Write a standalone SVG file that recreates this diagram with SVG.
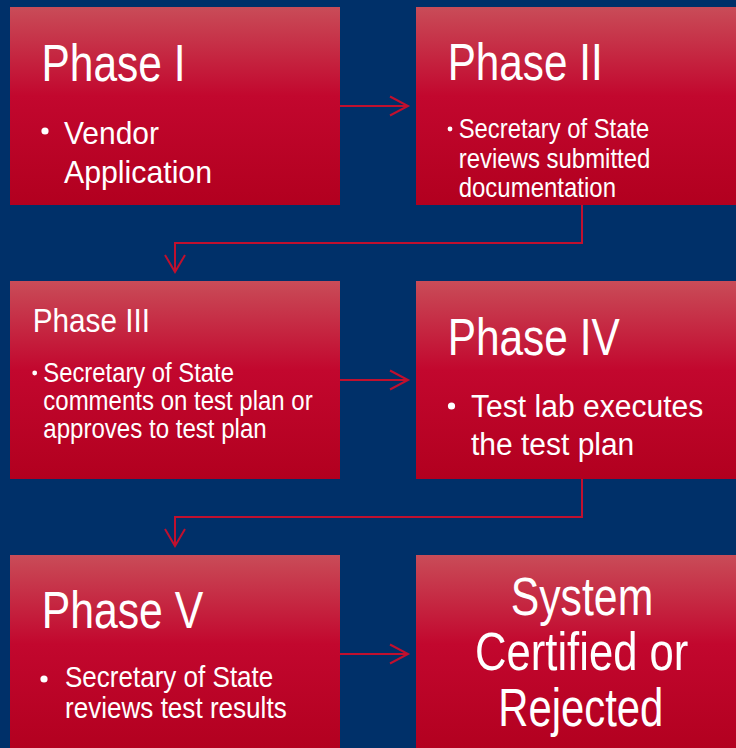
<svg xmlns="http://www.w3.org/2000/svg" width="736" height="748" viewBox="0 0 736 748">
<defs>
<linearGradient id="g" x1="0" y1="0" x2="0" y2="1">
<stop offset="0" stop-color="#c94c58"/>
<stop offset="0.45" stop-color="#c2072e"/>
<stop offset="1" stop-color="#b2001f"/>
</linearGradient>
<style>
.box{fill:url(#g)}
text{font-family:"Liberation Sans","Arial",sans-serif;fill:#ffffff}
.c{fill:none;stroke:#c0102e;stroke-width:2;stroke-linejoin:miter}
.b{fill:#ffffff}
</style>
</defs>
<rect width="736" height="748" fill="#003069"/>
<g id="connectors">
<path class="c" d="M340 106H408M390 96.5L408 106L390 115.5"/>
<path class="c" d="M340 380H408M390 370.5L408 380L390 389.5"/>
<path class="c" d="M340 654H408M390 644.5L408 654L390 663.5"/>
<path class="c" d="M582 205V243H175V272M165 255L175 272L185 255"/>
<path class="c" d="M582 479V517H175V546M165 529L175 546L185 529"/>
</g>
<g id="phase1">
<rect class="box" x="10" y="7" width="330" height="198"/>
<text x="41.5" y="81" font-size="52" textLength="144" lengthAdjust="spacingAndGlyphs">Phase I</text>
<circle class="b" cx="45" cy="131" r="3.6"/>
<text x="64" y="144" font-size="32" textLength="95" lengthAdjust="spacingAndGlyphs">Vendor</text>
<text x="64" y="183" font-size="32" textLength="148" lengthAdjust="spacingAndGlyphs">Application</text>
</g>
<g id="phase2">
<rect class="box" x="416" y="7" width="330" height="198"/>
<text x="447.7" y="80" font-size="52" textLength="155" lengthAdjust="spacingAndGlyphs">Phase II</text>
<circle class="b" cx="450" cy="129" r="2.4"/>
<text x="458.7" y="138.3" font-size="28" textLength="190.6" lengthAdjust="spacingAndGlyphs">Secretary of State</text>
<text x="458.7" y="167.7" font-size="28" textLength="191.7" lengthAdjust="spacingAndGlyphs">reviews submitted</text>
<text x="458.7" y="196.7" font-size="28" textLength="157.3" lengthAdjust="spacingAndGlyphs">documentation</text>
</g>
<g id="phase3">
<rect class="box" x="10" y="281" width="330" height="198"/>
<text x="32.7" y="331.7" font-size="34" textLength="117.3" lengthAdjust="spacingAndGlyphs">Phase III</text>
<circle class="b" cx="34.7" cy="373" r="2.4"/>
<text x="43.3" y="382" font-size="27" textLength="190.7" lengthAdjust="spacingAndGlyphs">Secretary of State</text>
<text x="43.3" y="410" font-size="27" textLength="269.4" lengthAdjust="spacingAndGlyphs">comments on test plan or</text>
<text x="43.3" y="438" font-size="27" textLength="223.4" lengthAdjust="spacingAndGlyphs">approves to test plan</text>
</g>
<g id="phase4">
<rect class="box" x="416" y="281" width="330" height="198"/>
<text x="447.7" y="355" font-size="52" textLength="172" lengthAdjust="spacingAndGlyphs">Phase IV</text>
<circle class="b" cx="451.5" cy="406" r="3.6"/>
<text x="471" y="417.3" font-size="31" textLength="232.3" lengthAdjust="spacingAndGlyphs">Test lab executes</text>
<text x="471" y="455" font-size="31" textLength="163.3" lengthAdjust="spacingAndGlyphs">the test plan</text>
</g>
<g id="phase5">
<rect class="box" x="10" y="555" width="330" height="198"/>
<text x="41.7" y="628.3" font-size="52" textLength="161.6" lengthAdjust="spacingAndGlyphs">Phase V</text>
<circle class="b" cx="44" cy="679" r="3.6"/>
<text x="65" y="687.3" font-size="30" textLength="208.3" lengthAdjust="spacingAndGlyphs">Secretary of State</text>
<text x="65" y="718.3" font-size="30" textLength="221.7" lengthAdjust="spacingAndGlyphs">reviews test results</text>
</g>
<g id="result">
<rect class="box" x="416" y="555" width="330" height="198"/>
<text x="510.7" y="615" font-size="53" textLength="142.6" lengthAdjust="spacingAndGlyphs">System</text>
<text x="475" y="670" font-size="53" textLength="213.3" lengthAdjust="spacingAndGlyphs">Certified or</text>
<text x="498.3" y="726" font-size="53" textLength="165" lengthAdjust="spacingAndGlyphs">Rejected</text>
</g>
</svg>
